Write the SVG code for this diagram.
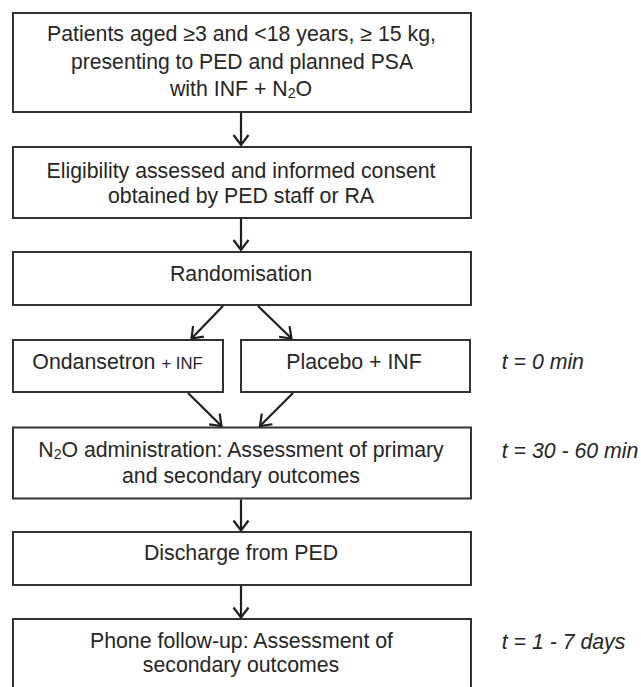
<svg xmlns="http://www.w3.org/2000/svg" width="641" height="687" viewBox="0 0 641 687">
<style>
.box{fill:#fff;stroke:#333;stroke-width:2}
.t{font-family:"Liberation Sans",Arial,sans-serif;fill:#262626;text-anchor:middle;font-size:21.3px}
.ti{font-family:"Liberation Sans",Arial,sans-serif;fill:#262626;font-style:italic;font-size:21.3px}
.c line{stroke:#1e1e1e;stroke-width:2.2;marker-end:url(#ah)}
</style>
<defs>
<marker id="ah" viewBox="-12 -10 14 20" refX="0" refY="0" markerWidth="14" markerHeight="20" markerUnits="userSpaceOnUse" orient="auto">
<path d="M-10,-7.5 L0,0 L-10,7.5" fill="none" stroke="#1e1e1e" stroke-width="2.2"/>
</marker>
</defs>
<rect width="641" height="687" fill="#fff"/>
<g id="n1">
<rect class="box" x="13" y="13" width="458" height="99"/>
<text class="t" x="241.5" y="41" textLength="389" lengthAdjust="spacingAndGlyphs">Patients aged ≥3 and &lt;18 years, ≥ 15 kg,</text>
<text class="t" x="242" y="68.5" textLength="342" lengthAdjust="spacingAndGlyphs">presenting to PED and planned PSA</text>
<text class="t" x="241" y="96">with INF + N<tspan font-size="14" dy="2">2</tspan><tspan dy="-2">O</tspan></text>
</g>
<g id="n2">
<rect class="box" x="13" y="147" width="458" height="71"/>
<text class="t" x="241" y="177.5" textLength="389" lengthAdjust="spacingAndGlyphs">Eligibility assessed and informed consent</text>
<text class="t" x="241" y="203" textLength="266" lengthAdjust="spacingAndGlyphs">obtained by PED staff or RA</text>
</g>
<g id="n3">
<rect class="box" x="13" y="252" width="458" height="53"/>
<text class="t" x="241" y="281">Randomisation</text>
</g>
<g id="n4">
<rect class="box" x="13" y="340" width="210" height="52"/>
<text class="t" x="117.5" y="368.5">Ondansetron <tspan font-size="16.7">+ INF</tspan></text>
</g>
<g id="n5">
<rect class="box" x="241" y="340" width="229" height="52"/>
<text class="t" x="354" y="368.5">Placebo + INF</text>
</g>
<g id="n6">
<rect class="box" x="13" y="427.5" width="458" height="71"/>
<text class="t" x="241" y="456.5">N<tspan font-size="14" dy="2">2</tspan><tspan dy="-2">O administration: Assessment of primary</tspan></text>
<text class="t" x="241" y="482.5">and secondary outcomes</text>
</g>
<g id="n7">
<rect class="box" x="13" y="532" width="458" height="53"/>
<text class="t" x="241" y="559.5">Discharge from PED</text>
</g>
<g id="n8">
<rect class="box" x="13" y="619" width="458" height="80"/>
<text class="t" x="241.5" y="647.5">Phone follow-up: Assessment of</text>
<text class="t" x="241" y="672">secondary outcomes</text>
</g>
<g id="labels">
<text class="ti" x="501.7" y="368.5">t = 0 min</text>
<text class="ti" x="501.7" y="458">t = 30 - 60 min</text>
<text class="ti" x="501.7" y="649">t = 1 - 7 days</text>
</g>
<g id="connectors" class="c">
<line x1="241" y1="113" x2="241" y2="145"/>
<line x1="241" y1="219" x2="241" y2="250"/>
<line x1="223" y1="306" x2="191.5" y2="338.5"/>
<line x1="258" y1="306" x2="291.5" y2="338.5"/>
<line x1="188" y1="393" x2="221.5" y2="426"/>
<line x1="293" y1="393" x2="260" y2="426"/>
<line x1="241" y1="499.5" x2="241" y2="530.5"/>
<line x1="241" y1="586" x2="241" y2="617.5"/>
</g>
</svg>
